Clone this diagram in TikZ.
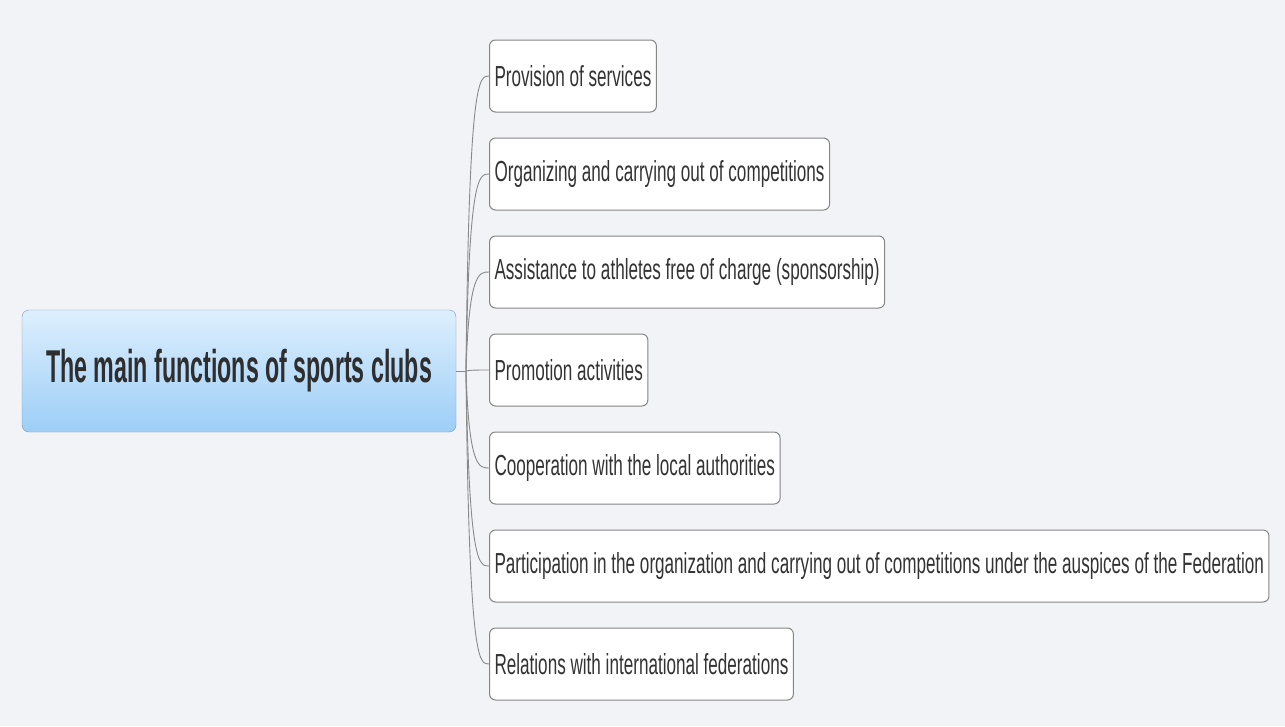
\documentclass[tikz,border=0pt]{standalone}
\usepackage{fontspec}
\usepackage{xcolor}
\setmainfont{Liberation Sans}
\newfontfamily\leaffont[FakeStretch=0.59]{Liberation Sans}
\newfontfamily\rootfont[FakeStretch=0.505]{Liberation Sans}
\definecolor{bgcolor}{HTML}{F2F3F7}
\definecolor{boxline}{HTML}{858585}
\definecolor{rootline}{HTML}{7E98AE}
\definecolor{roottop}{HTML}{DDEFFD}
\definecolor{rootbottom}{HTML}{9DCEF7}
\definecolor{textgray}{HTML}{333333}
\definecolor{linkcolor}{HTML}{8A8A8A}
\tikzstyle{rootbox} = [
    draw=rootline,
    top color=roottop,
    bottom color=rootbottom,
    rounded corners=7pt,
    minimum width=434pt,
    minimum height=122pt,
    text=textgray!90!black,
    font=\rootfont\bfseries\fontsize{46}{50}\selectfont
    ]
\tikzstyle{leafbox} = [
    draw=boxline,
    line width=1pt,
    fill=white,
    rounded corners=6pt,
    anchor=west,
    minimum height=72pt,
    inner xsep=5pt,
    text=textgray,
    font=\leaffont\fontsize{29}{33}\selectfont
    ]
\tikzstyle{link} = [draw=linkcolor, line width=0.9pt]

\begin{document}
\begin{tikzpicture}[x=1pt, y=-1pt]
\fill[bgcolor] (0,0) rectangle (1285,726);
\useasboundingbox (0,0) rectangle (1285,726);
\node [rootbox] (root) at (239,371) {The main functions of sports clubs};
\coordinate (hub) at (466,371);
\draw[link] (root.east) -- (hub);
\foreach \name/\y/\txt in {
    services/76/{Provision of services},
    competitions/174/{Organizing and carrying out of competitions},
    athletes/272/{Assistance to athletes free of charge (sponsorship)},
    promotion/370/{Promotion activities},
    authorities/468/{Cooperation with the local authorities},
    federation/566/{Participation in the organization and carrying out of competitions under the auspices of the Federation},
    relations/664/{Relations with international federations}}{
    \node [leafbox] (\name) at (489,\y) {\txt};
    \draw[link] (hub) .. controls ([xshift=3pt]hub |- \name.west) and ([xshift=-10pt]\name.west) .. (\name.west);
}
\end{tikzpicture}
\end{document}
